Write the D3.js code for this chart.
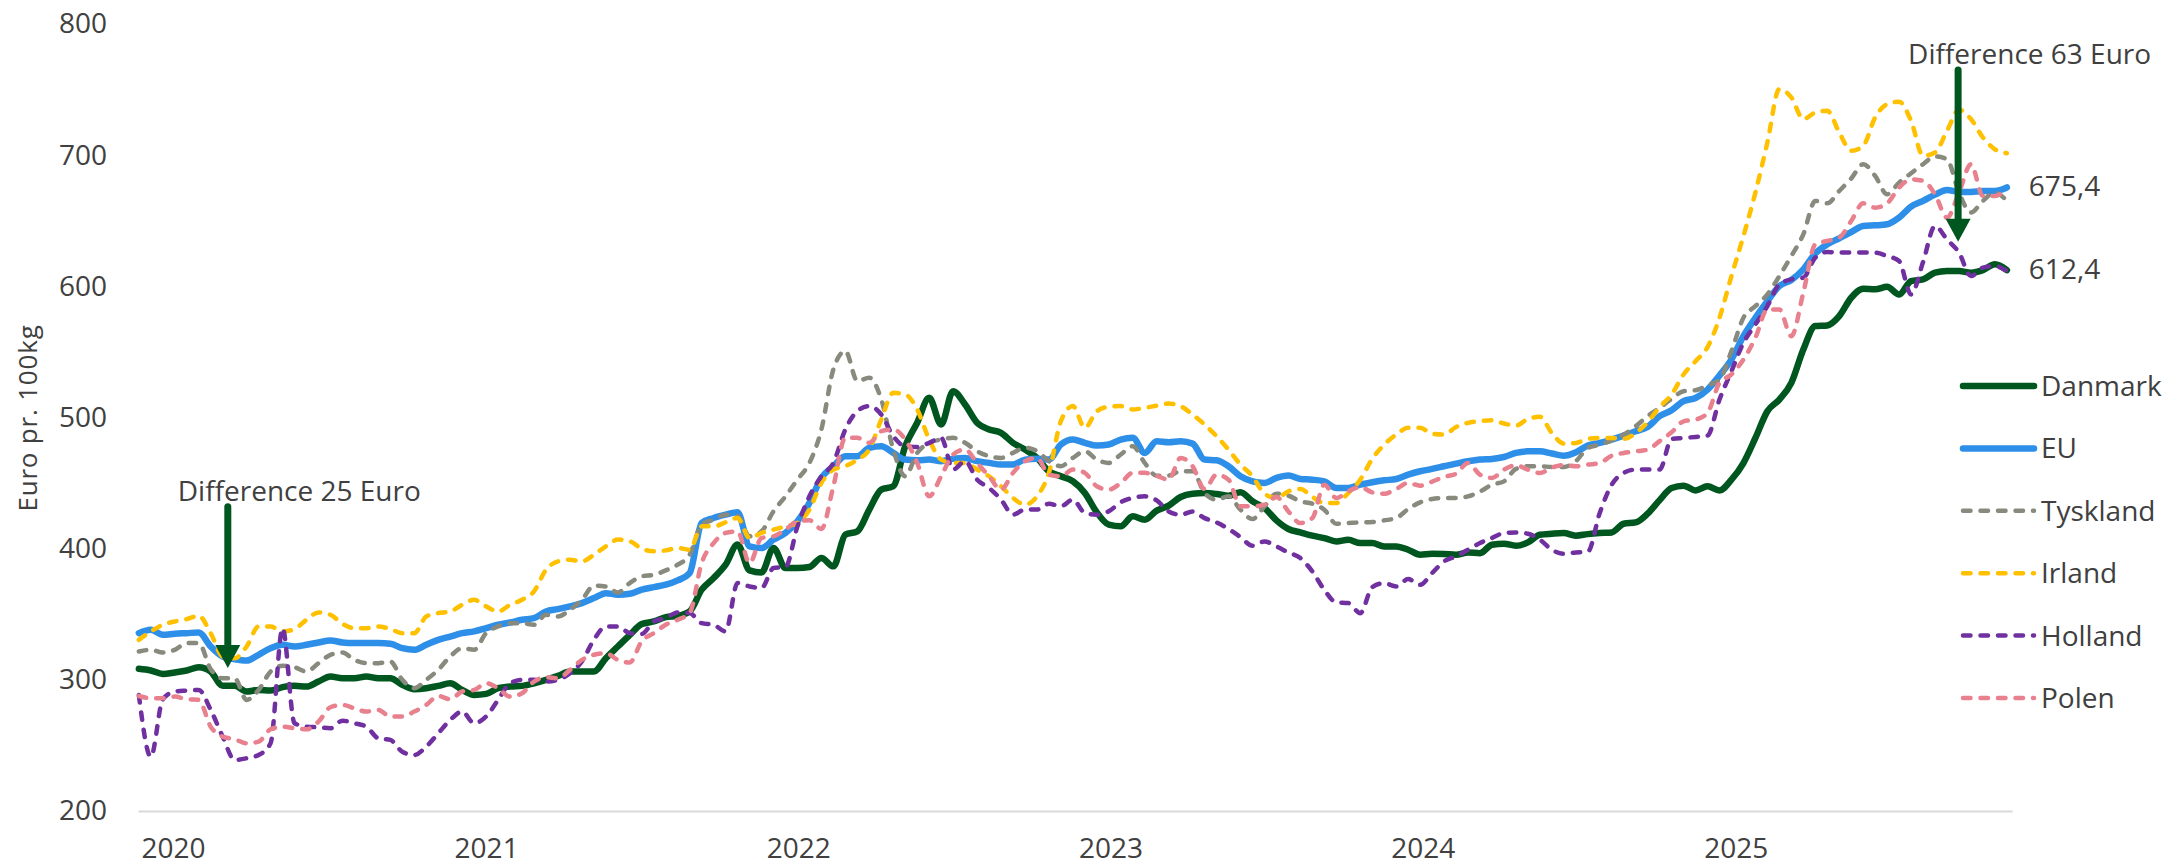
<!DOCTYPE html>
<html><head><meta charset="utf-8">
<script src="https://cdn.jsdelivr.net/npm/d3@7"></script>
<style>
html,body{margin:0;padding:0;background:#fff;}
svg{display:block;}
text{font-family:"Open Sans","Noto Sans",sans-serif;fill:#404040;}
</style></head><body>
<svg id="chart" width="2182" height="867"></svg>
<script>
// ---- categories: bi-weekly observations ----
const startDate = "2019-11-22";
const stepDays = 14;
const yearTicks = [2020, 2021, 2022, 2023, 2024, 2025];
const yTicks = [200, 300, 400, 500, 600, 700, 800];
const seriesNames = ["Danmark", "EU", "Tyskland", "Irland", "Holland", "Polen"];

// ---- series values (Euro pr. 100kg) ----
const danmark = [308.4,307.1,304.5,305.6,307.1,309.6,306.3,295.4,295.4,291.1,292.3,291.8,294.4,295.4,294.9,298.7,302.5,301.2,301.2,302.5,301.2,301.2,296.2,292.8,293.6,295.4,297.4,292.3,288.5,289.3,293.6,294.9,295.4,297.4,300,303,306.3,306.3,306.3,316.5,325.4,334.3,342.5,
344.5,347.8,348.8,352.2,368.7,377.6,387.8,403.1,383.5,381.9,400.5,385.2,385.2,386,392.9,386.5,410.7,413.2,429.8,445,447.6,478.1,496,515,494.7,520.1,509.9,496,490.9,488.3,480.7,475.6,469.2,459,455.2,451.4,442.5,427.7,418.3,417,424.7,422.1,429,
432.8,439.4,441.9,442.4,441.7,440.4,443,436.1,431,421.6,415,412.4,409.9,408.1,405.5,406.8,404.3,404.3,401.7,401.7,399.2,395.4,396.1,395.9,395.4,397.1,396.6,403,403.8,402.2,404.8,410.6,411.4,411.9,409.9,411.1,411.9,412.4,419,420,426.7,437,
446.2,448,444.4,447.5,444.4,452.6,465.3,484.4,504.8,513.7,526.4,551.8,569.7,570.2,577.3,591.3,598.2,597.7,599.7,593.8,604,605.3,610.4,611.7,611.7,610.4,612.4,616.8,612.4];

const eu = [335.6,338.1,334.3,335.1,335.6,336.1,325.4,317.8,315.7,314.7,319.1,324.1,326.7,325.4,326.7,328.5,330,328.5,328,328,328,327.5,324.1,322.9,326.7,330.5,333,335.6,336.9,339.4,342,343.7,345.8,347,352.1,353.9,356,358.5,362.3,366.1,364.9,365.6,368.7,
370.7,372.5,375.8,381.4,419.6,423.4,425.9,427.7,401.8,400.5,406.9,412,420.9,434.9,454,462.9,470.5,470.5,476.9,478.1,473,467.9,467.4,467.9,466.7,468.5,469.2,466.7,465.4,464.1,464.1,467.9,468.5,467.9,479.4,483.2,480.7,478.6,479.4,483.2,484.5,473,481.9,
481.1,481.9,480.1,467.9,467.4,462.8,455.2,451.3,450.1,453.9,455.7,453.1,452.6,451.3,446.3,446.3,448.8,450.6,452.1,453.1,456.4,459,460.8,462.8,464.8,466.6,467.9,468.4,469.9,473,474.2,474.2,472.5,470.9,473.5,478.6,480.6,483.2,486.2,489.5,492.8,501,
505.5,512.4,514.9,521.3,532,544.2,562,576,588.7,600.2,604.8,612.9,625.1,632,636.6,641.4,646,646.5,647.3,652.4,660.8,665.1,669.9,673.5,672,672,672.7,672.7,675.4];

const tyskland = [321.6,322.9,320.8,322.9,328,328,308.1,301.2,301.2,284.7,292.3,306.3,310.7,309.6,306.3,312.7,319.1,320.8,315.2,312.7,312.7,314,300,293.6,300,307.6,317.8,324.1,322.9,335.6,340.7,343.2,343.2,342,349.6,348.3,353.4,361,371.7,371.2,366.6,373.8,379,
380.1,383.4,387.8,395.4,418.3,422.1,425.9,424.7,409.4,413.2,428.5,439.9,452.7,465.4,490.9,536.7,550.7,527.8,530.3,513.8,475.6,455.2,473,480.7,483.2,484.5,480.7,474.3,470.5,469.2,473,476.9,474.3,466.7,462.9,469.2,474.3,467.9,465.4,471.8,478.1,465.4,455.5,
455.7,459,459,442.4,437.4,439.9,429.7,422.6,432.2,441.9,440.4,436.1,434.3,429.7,419,419.5,420,420.3,421.6,423.3,430.2,435.3,437.9,438.6,438.6,439.9,443.5,448.8,451.3,460.8,462.8,462.8,462.3,462.3,466.6,476.8,479.3,482.6,487,493.3,501,507.3,
514.2,520,520.8,524.4,528.9,550.6,576,584.9,593.8,607.8,623.1,639.6,665.1,663.3,672.7,682.2,693.1,684.2,670.2,679.1,686.2,693.1,699,696.9,671.5,656.2,665.1,671.5,665.1];

const irland = [330.5,336.9,342,344.5,346.3,348.8,335.6,317.8,316.5,325.4,340.7,340.7,336.9,338.7,345.8,351.4,349.6,342.7,339.4,339.4,340.7,338.7,335.6,335.6,348.3,350.9,352.1,357.2,361,356,352.1,357.2,361,367.4,383.9,390.3,391.6,390.3,395.4,401.8,406.9,405.6,400,
398,398.7,400.5,399.2,417,417,420.1,423.4,408.1,412,414.5,417,419.6,429.8,450.1,460.3,462.9,467.9,475.6,498.5,518.8,517.6,506.1,483.2,467.9,465.4,465.4,460.3,455.2,447.6,438.7,433.6,439.9,457.8,497.2,508.7,492.1,504.8,508.2,508.7,506.1,507.4,509,
510.6,508.6,502.2,494.6,485.7,475.5,464.1,455.2,441.9,438.6,443.7,445.5,439.4,434.8,434.8,442.4,452.6,468.4,479.3,487,492.1,492.1,487.7,487,492.8,495.9,497.2,497.9,495.4,493.8,498.9,500.5,488.2,480.1,480.6,483.7,484.4,484.4,483.7,488.2,496.4,508,
517.5,532.8,542.9,553.6,576,607.8,638.4,671.5,709.6,750.4,744,727.5,732.5,733.8,717.3,703.3,707.1,728.7,738.9,740.7,726.2,699.5,702,718.5,734.6,727.5,713.5,704.5,701.5];

const holland = [288.5,241.4,285.2,291.1,291.8,292.3,277.1,256.7,238.9,240.2,242.7,251.6,339.4,266.9,264.3,263.8,263.1,268.9,266.9,264.3,255.4,254.2,245.2,242.7,249.1,259.2,269.4,275.8,266.9,272,284.7,297.4,300,300,298.7,300,305.1,314,330.5,340.7,340.7,335.6,335,
344.5,347.1,351.4,350.9,343.2,342,336.9,373.8,371.2,370,385.2,386,417,439.9,455.2,465.4,490.9,504.8,508.7,502.3,485.8,478.1,477.6,480.7,484.5,460.3,466.7,452.7,446.3,437.4,425.9,429.8,429.8,434.3,432.3,437.4,427.2,425.9,428.5,435.4,438.7,439.9,436.8,
428.4,425.9,428.4,423.3,420,415,408.8,402.2,405.5,401.7,397.1,392.8,382.6,368.6,359,358.5,350.8,370.7,373.7,371.2,376.8,372.4,381.4,390.3,394.1,399.2,404.3,408.1,411.9,412.4,411.4,406.8,399.2,396.1,397.1,397.6,427.2,448.8,457.7,460.3,460.3,460.3,
483.6,484.4,485.2,486.2,513.7,535.3,556.9,570.9,584.9,601.5,605.3,606.6,621.8,626.2,625.7,625.7,625.7,625.7,623.1,619.3,593.8,618.5,646,635.8,625.7,607.8,614.2,615.5,611.7];

const polen = [287.7,286,286,287.2,285.2,284.7,264.3,256.7,254.7,251.6,252.9,262.3,264.3,263.1,262.3,268.1,279.1,280.9,278.3,275.8,277.1,272,272,275.8,280.9,287.7,285.2,291.1,292.3,297.4,293.6,287.2,289.8,298.7,302,301.2,307.6,315.2,319.1,320.3,315.2,313.2,329.5,
335.6,342,345.8,350.9,389,404.3,412,413.2,389,408.1,409.4,414.5,420.9,421.6,415,447.6,484.5,484.5,480.7,489.6,490.9,483.2,465.4,439.9,455.2,471.8,475.6,465.4,455.2,445,457.8,466.7,469.2,456.5,455.2,460.3,457.8,447.6,445,450.1,457.8,457.8,455.5,
452.6,469.2,462.8,445.5,456.4,452.6,432.3,432.3,433.5,439.4,428.4,419.5,423.3,448.8,438.6,443.7,447,442.9,441.9,445.5,450.1,448,451.1,454.7,457.2,465.3,456.4,453.9,460.3,463.6,460.3,457.7,461.8,463.8,462.8,464.1,465.3,470.9,473,474.2,475.5,482,
488.7,497.1,498.4,503.5,526.4,532.8,544.2,560.8,582.4,582.4,562,595.1,632,634.6,637.1,649.8,663.3,660,663.3,675.3,681.6,680.4,670.2,652.4,671.5,693.1,668.9,668.9,674.5];

// ---- annotations ----
const annotations = [
  {label: "Difference 25 Euro", date: "2020-03-05", from: 432, to: 309},
  {label: "Difference 63 Euro", date: "2025-09-18", from: 765, to: 634}
];
const endLabelSeries = ["EU", "Danmark"];

// ---- styles ----
const styles = {
  Danmark:  {color: "#00561F", width: 6.5, dash: null},
  EU:       {color: "#2E8FE8", width: 6.5, dash: null},
  Tyskland: {color: "#878A7D", width: 4.5, dash: "7.5,10"},
  Irland:   {color: "#FFC000", width: 4.5, dash: "7.5,10"},
  Holland:  {color: "#7030A0", width: 4.5, dash: "7.5,10"},
  Polen:    {color: "#E8808E", width: 4.5, dash: "7.5,10"}
};
const valuesByName = {Danmark: danmark, EU: eu, Tyskland: tyskland, Irland: irland, Holland: holland, Polen: polen};

const parse = d3.timeParse("%Y-%m-%d");
const t0 = parse(startDate);
const dates = danmark.map((_, i) => d3.timeDay.offset(t0, i * stepDays));

const svg = d3.select("#chart");
const x = d3.scaleTime().domain([new Date(2019, 10, 21), new Date(2025, 10, 20)]).range([138, 2012]);
const y = d3.scaleLinear().domain([200, 800]).range([811, 24]);

// y axis
const gy = svg.append("g").attr("transform", "translate(110,0)")
  .call(d3.axisLeft(y).tickValues(yTicks).tickSize(0).tickPadding(3));
gy.select(".domain").remove();
gy.selectAll("text").attr("font-size", 28).attr("font-family", null).style("fill", "#404040");

// x axis
const gx = svg.append("g").attr("transform", "translate(0,811)")
  .call(d3.axisBottom(x).tickValues(yearTicks.map(yr => new Date(yr, 0, 1)))
        .tickFormat(d3.timeFormat("%Y")).tickSize(0).tickSizeOuter(0).tickPadding(27));
gx.select(".domain").attr("stroke", "#D9D9D9").attr("stroke-width", 2);
gx.selectAll("text").attr("font-size", 28).attr("font-family", null).style("fill", "#404040");

// y title
svg.append("text").attr("transform", "translate(37,418) rotate(-90)")
  .attr("text-anchor", "middle").attr("font-size", 26).style("letter-spacing", "0.8px")
  .text("Euro pr. 100kg");

// lines
const line = d3.line().x((d, i) => x(dates[i])).y(d => y(d)).curve(d3.curveMonotoneX);
seriesNames.forEach(name => {
  const s = styles[name];
  svg.append("path").datum(valuesByName[name])
    .attr("fill", "none").attr("stroke", s.color).attr("stroke-width", s.width)
    .attr("stroke-linejoin", "round").attr("stroke-linecap", "round")
    .attr("stroke-dasharray", s.dash)
    .attr("d", line);
});

// end labels
endLabelSeries.forEach(name => {
  const v = valuesByName[name];
  const last = v[v.length - 1];
  svg.append("text").attr("x", x(dates[v.length - 1]) + 22).attr("y", y(last) + 9)
    .attr("font-size", 28).text(last.toFixed(1).replace(".", ","));
});

// annotations
const arrowColor = "#00561F";
annotations.forEach(a => {
  const ax = x(parse(a.date));
  const yTop = y(a.from), yTip = y(a.to);
  const headLen = 23, headW = 25;
  svg.append("line").attr("x1", ax).attr("x2", ax).attr("y1", yTop).attr("y2", yTip - headLen + 2)
    .attr("stroke", arrowColor).attr("stroke-width", 7).attr("stroke-linecap", "round");
  svg.append("path")
    .attr("d", `M${ax - headW / 2},${yTip - headLen}L${ax + headW / 2},${yTip - headLen}L${ax},${yTip}Z`)
    .attr("fill", arrowColor);
  svg.append("text").attr("x", ax - 50).attr("y", yTop - 6).attr("font-size", 28).text(a.label);
});

// legend
const leg = svg.append("g");
seriesNames.forEach((name, i) => {
  const s = styles[name];
  const ly = 386 + i * 62.4;
  leg.append("line").attr("x1", 1963).attr("x2", 2034).attr("y1", ly).attr("y2", ly)
    .attr("stroke", s.color).attr("stroke-width", s.width).attr("stroke-linecap", "round")
    .attr("stroke-dasharray", s.dash);
  leg.append("text").attr("x", 2041).attr("y", ly + 10).attr("font-size", 28).text(name);
});
</script>
</body></html>
